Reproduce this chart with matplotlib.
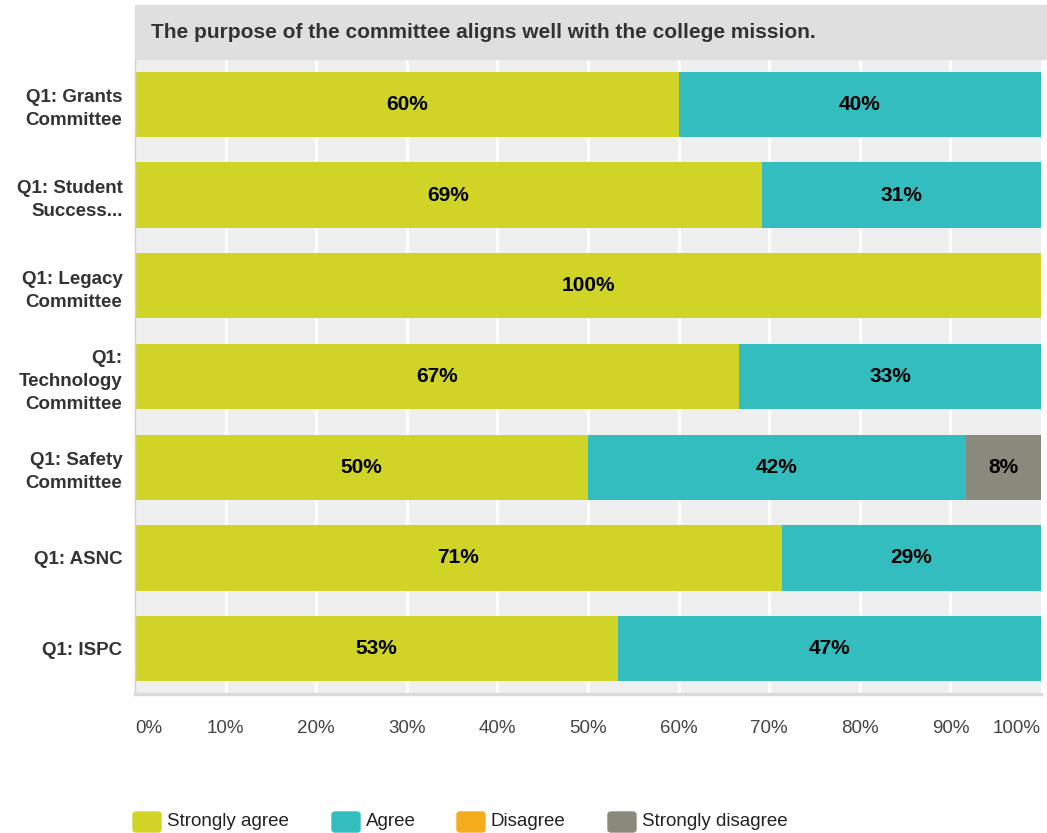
import matplotlib.pyplot as plt
from matplotlib.patches import Rectangle, FancyBboxPatch

plt.rcParams['font.family'] = ['Liberation Sans', 'DejaVu Sans']

committees = ['Q1: Grants\nCommittee', 'Q1: Student\nSuccess...', 'Q1: Legacy\nCommittee',
              'Q1:\nTechnology\nCommittee', 'Q1: Safety\nCommittee', 'Q1: ASNC', 'Q1: ISPC']
strongly_agree = [60.0, 69.2, 100.0, 66.7, 50.0, 71.4, 53.3]
agree = [40.0, 30.8, 0.0, 33.3, 41.7, 28.6, 46.7]
disagree = [0, 0, 0, 0, 0, 0, 0]
strongly_disagree = [0, 0, 0, 0, 8.3, 0, 0]

series = ['Strongly agree', 'Agree', 'Disagree', 'Strongly disagree']
colors = ['#cfd427', '#33bdbf', '#f5ad1e', '#898a7c']
title = 'The purpose of the committee aligns well with the college mission.'

W, H = 1047, 833
fig = plt.figure(figsize=(W / 100, H / 100), dpi=100)

# grey title band on top of the plot
fig.patches.append(Rectangle((135 / W, 1 - 59 / H), (1047 - 135) / W, 54 / H,
                             transform=fig.transFigure, color='#dfdfdf', zorder=0))
fig.text(151 / W, 1 - 32 / H, title, fontsize=15, fontweight='bold', color='#333333', va='center')

ax = fig.add_axes([135 / W, 1 - 694 / H, (1041 - 135) / W, (694 - 59) / H])
ax.set_facecolor('#efefef')

y = list(range(len(committees)))
left = [0] * len(committees)
for vals, col in zip([strongly_agree, agree, disagree, strongly_disagree], colors):
    ax.barh(y, vals, left=left, height=0.72, color=col, zorder=2)
    for i, v in enumerate(vals):
        if v > 0:
            ax.text(left[i] + v / 2, i, f'{round(v)}%', ha='center', va='center',
                    fontsize=15, fontweight='bold', color='black', zorder=3)
    left = [a + b for a, b in zip(left, vals)]

ax.set_xlim(0, 100)
ax.set_ylim(len(committees) - 0.5, -0.5)
ax.set_yticks(y)
ax.set_yticklabels(committees, fontsize=13.5, fontweight='bold', color='#333333',
                   ha='right', linespacing=1.45)
ax.tick_params(axis='y', length=0, pad=9)

ticks = list(range(0, 101, 10))
ax.set_xticks(ticks)
ax.set_xticklabels([f'{t}%' for t in ticks], fontsize=13.5, color='#444444')
ax.tick_params(axis='x', length=0, pad=19)
labs = ax.get_xticklabels()
labs[0].set_ha('left')
labs[-1].set_ha('right')

for t in ticks[1:-1]:
    ax.axvline(t, color='white', lw=2, zorder=1)

for s in ['top', 'right']:
    ax.spines[s].set_visible(False)
ax.spines['left'].set_color('#d0d0d0')
ax.spines['left'].set_linewidth(1)
ax.spines['bottom'].set_color('#dadada')
ax.spines['bottom'].set_linewidth(2.5)

# legend along the bottom edge
leg_x = [133, 332, 457, 608]
for x, name, col in zip(leg_x, series, colors):
    fig.patches.append(FancyBboxPatch((x / W, 1 - 832 / H), 28 / W, 20 / H,
                                      boxstyle='round,pad=0,rounding_size=0.003',
                                      transform=fig.transFigure, color=col))
    fig.text((x + 34) / W, 1 - 821 / H, name, fontsize=13.5, color='#222222', va='center')

fig.savefig('out.png', dpi=100)
